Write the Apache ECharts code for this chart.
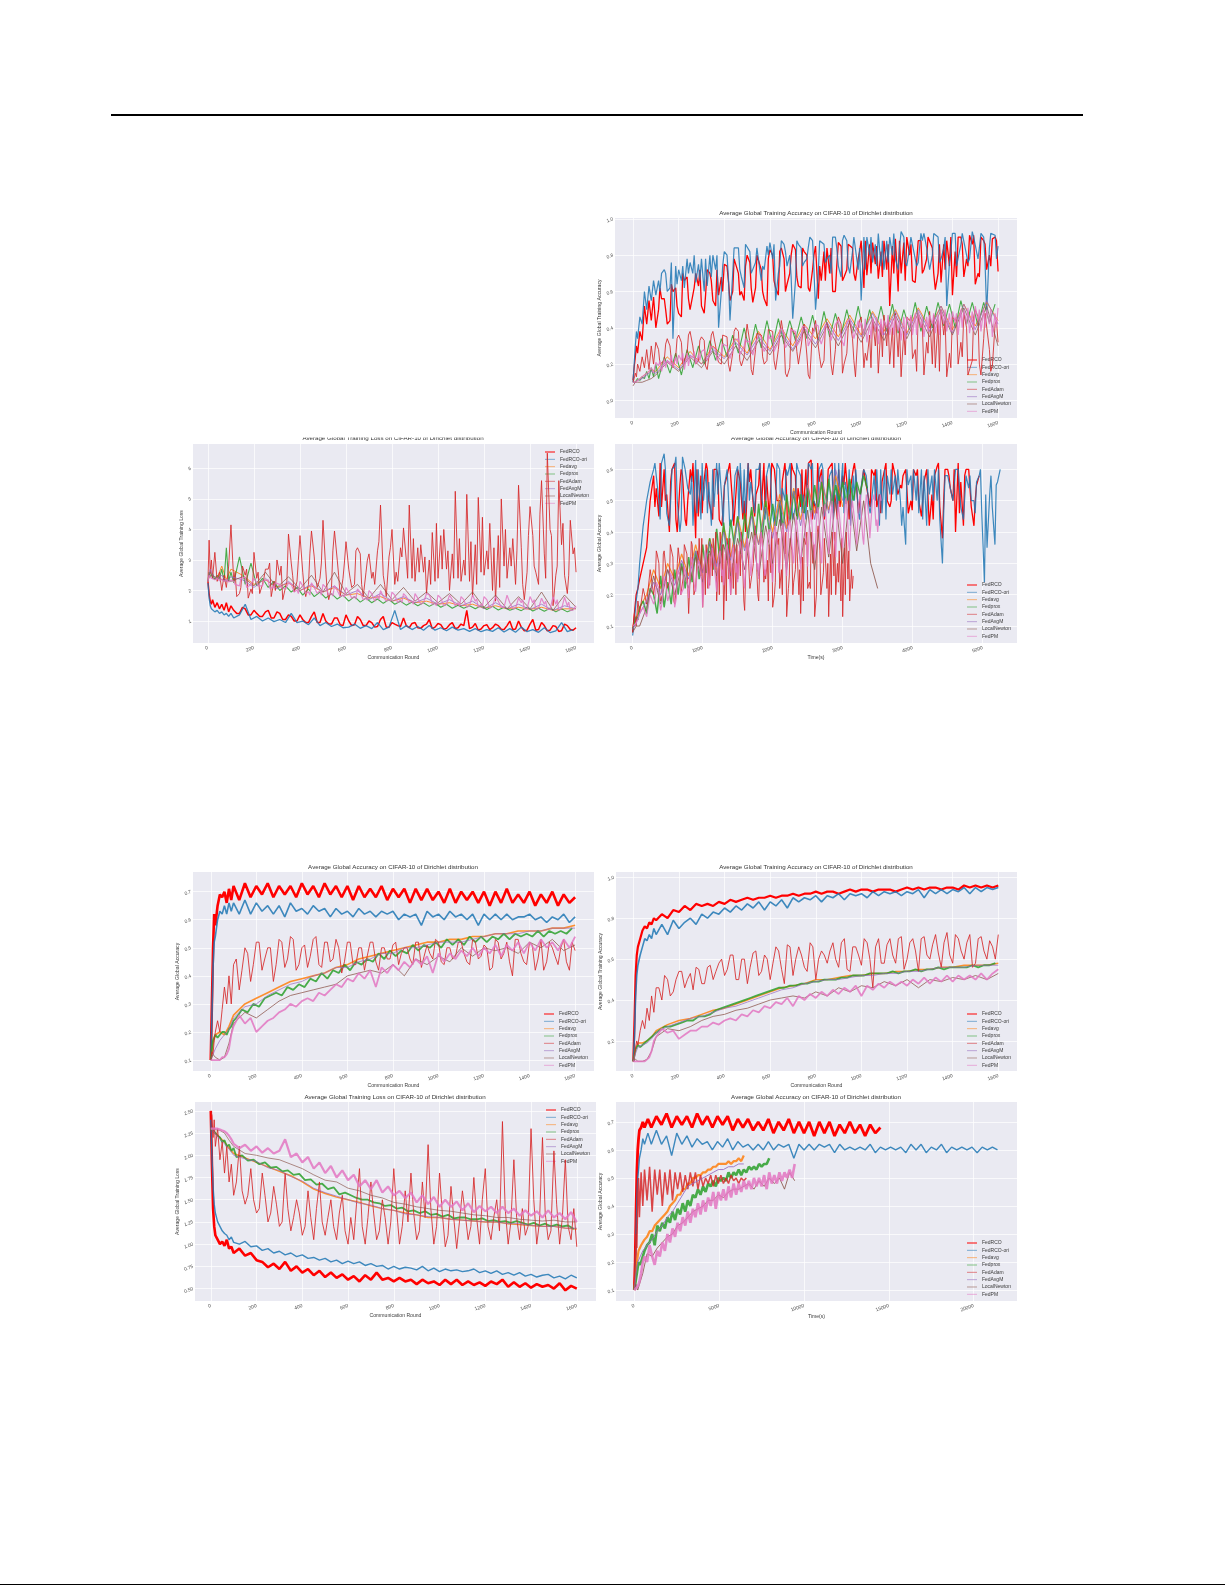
<!DOCTYPE html>
<html><head><meta charset="utf-8">
<style>html,body{margin:0;padding:0;background:#fff}#c{width:1225px;height:1585px;filter:blur(.35px)}</style>
<script src="https://cdn.jsdelivr.net/npm/echarts@6/dist/echarts.min.js"></script>
</head><body><div id="c"></div>
<script>
const names=['FedRCO','FedRCO-ori','Fedavg','Fedprox','FedAdam','FedAvgM','LocalNewton','FedPM'];
const colors=['#ff0000','#1f77b4','#ff7f0e','#2ca02c','#d62728','#9467bd','#8c564b','#e377c2'];
// x grids
const roundsFine=[0,5,10,15,20,30,40,50,60,70,80,90,100,
125,150,175,200,225,250,275,300,325,350,
375,400,425,450,475,500,525,550,575,600,
625,650,675,700,725,750,775,800,825,850,
875,900,925,950,975,1000,1025,1050,1075,1100,
1125,1150,1175,1200,1225,1250,1275,1300,1325,1350,
1375,1400,1425,1450,1475,1500,1525,1550,1575,1600];
const roundsFineB=[0,5,10,15,20,30,40,50,60,70,80,90,100,
112,137,162,187,212,237,262,287,312,337,
362,387,412,437,462,487,512,537,562,587,
612,637,662,687,712,737,762,787,812,837,
862,887,912,937,962,987,1012,1037,1062,1087,
1112,1137,1162,1187,1212,1237,1262,1287,1312,1337,
1362,1387,1412,1437,1462,1487,1512,1537,1562,1587];
const roundsMid=[112,137,162,187,212,237,262,287,312,337,
362,387,412,437,462,487,512,537,562,587,
612,637,662,687,712,737,762,787,812,837,
862,887,912,937,962,987,1012,1037,1062,1087,
1112,1137,1162,1187,1212,1237,1262,1287,1312,1337,
1362,1387,1412,1437,1462,1487,1512,1537,1562,1587];
const roundsThird=[118,143,168,193,218,243,268,293,318,343,
368,393,418,443,468,493,518,543,568,593,
618,643,668,693,718,743,768,793,818,843,
868,893,918,943,968,993,1018,1043,1068,1093,
1118,1143,1168,1193,1218,1243,1268,1293,1318,1343,
1368,1393,1418,1443,1468,1493,1518,1543,1568,1593];
const roundsCoarse=[0,10,20,40,60,80,100,
150,200,250,300,350,400,450,500,550,600,
650,700,750,800,850,900,950,1000,1050,1100,
1150,1200,1250,1300,1350,1400,1450,1500,1550,1600];
const tLongC=[0,25,50,75,100,150,200,250,
300,375,450,525,600,675,750,825,900,975,
1050,1125,1200,1275,1350,1425,1500,1575,1650,1725,
1800,1875,1950,2025,2100,2175,2250,2325,2400,2475,
2550,2625,2700,2775,2850,2925,3000,3075,3150,3225,
3300,3375,3450,3525,3600,3675,3750,3825,3900,3975,
4050,4125,4200,4275,4350,4425,4500,4575,4650,4725,
4800,4875,4950,5025,5100,5175,5250];
const tLongMidC=[337,412,487,562,637,712,787,862,937,1012,
1087,1162,1237,1312,1387,1462,1537,1612,1687,1762,
1837,1912,1987,2062,2137,2212,2287,2362,2437,2512,
2587,2662,2737,2812,2887,2962,3037,3112,3187,3262,
3337,3412,3487,3562,3637,3712,3787,3862,3937,4012,
4087,4162,4237,4312,4387,4462,4537,4612,4687,4762,
4837,4912,4987,5062,5137,5212];
const tLongThirdC=[318,393,468,543,618,693,768,843,918,993,
1068,1143,1218,1293,1368,1443,1518,1593,1668,1743,
1818,1893,1968,2043,2118,2193,2268,2343,2418,2493,
2568,2643,2718,2793,2868,2943,3018,3093,3168,3243,
3318,3393,3468,3543,3618,3693,3768,3843,3918,3993,
4068,4143,4218,4293,4368,4443,4518,4593,4668,4743,
4818,4893,4968,5043,5118,5193];
const tShortC=[0,25,50,75,100,150,200,250,
300,350,400,450,500,550,600,650,700,750,
800,850,900,950,1000,1050,1100,1150,1200,1250,
1300,1350,1400,1450,1500,1550,1600,1650,1700,1750,
1800,1850,1900,1950,2000,2050,2100,2150,2200,2250,
2300,2350,2400,2450,2500,2550,2600,2650,2700,2750,
2800,2850,2900,2950,3000,3050,3100,3150,3200,3250,
3300,3350,3400,3450,3500,3550];
const tShortMidC=[325,375,425,475,525,575,625,675,725,775,
825,875,925,975,1025,1075,1125,1175,1225,1275,
1325,1375,1425,1475,1525,1575,1625,1675,1725,1775,
1825,1875,1925,1975,2025,2075,2125,2175,2225,2275,
2325,2375,2425,2475,2525,2575,2625,2675,2725,2775,
2825,2875,2925,2975,3025,3075,3125,3175,3225,3275,
3325,3375,3425,3475,3525];
const tShortThirdC=[338,388,438,488,538,588,638,688,738,788,
838,888,938,988,1038,1088,1138,1188,1238,1288,
1338,1388,1438,1488,1538,1588,1638,1688,1738,1788,
1838,1888,1938,1988,2038,2088,2138,2188,2238,2288,
2338,2388,2438,2488,2538,2588,2638,2688,2738,2788,
2838,2888,2938,2988,3038,3088,3138,3188,3238,3288,
3338,3388,3438,3488,3538];
const tCoarseC=[0,50,100,200,
300,400,500,600,700,800,900,1000,1100,1200,
1300,1400,1500,1600,1700,1800,1900,2000,2100,2200,
2300,2400,2500,2600,2700,2800,2900,3000,3100,3200,
3300,3400,3500];
const tLongG=[0,50,100,150,200,250,300,400,500,600,800,1000,
1300,1600,1900,2200,2500,2800,3100,3400,3700,4000,
4300,4600,4900,5200,5500,5800,6100,6400,6700,7000,
7300,7600,7900,8200,8500,8800,9100,9400,9700,10000,
10300,10600,10900,11200,11500,11800,12100,12400,12700,13000,
13300,13600,13900,14200,14500,14800,15100,15400,15700,16000,
16300,16600,16900,17200,17500,17800,18100,18400,18700,19000,
19300,19600,19900,20200,20500,20800,21100,21400];
const tShortG=[0,50,100,150,200,250,300,400,500,600,
750,900,1050,1200,1350,1500,1650,1800,1950,2100,
2250,2400,2550,2700,2850,3000,3150,3300,3450,3600,
3750,3900,4050,4200,4350,4500,4650,4800,4950,5100,
5250,5400,5550,5700,5850,6000,6150,6300,6450,6600,
6750,6900,7050,7200,7350,7500,7650,7800,7950,8100,
8250,8400,8550,8700,8850,9000,9150,9300,9450];
const tCoarseG=[0,100,200,300,500,
750,1050,1350,1650,1950,2250,2550,2850,3150,3450,
3750,4050,4350,4650,4950,5250,5550,5850,6150,6450,
6750,7050,7350,7650,7950,8250,8550,8850,9150,9450];
// Panel A: training accuracy, heterogeneous
const aRco=[.11,.18,.24,.3,.26,.38,.33,.52,.42,.55,.44,.57,.4,
.56,.42,.6,.48,.66,.5,.7,.52,.72,.55,
.58,.75,.55,.78,.6,.8,.54,.79,.56,.83,
.62,.84,.64,.86,.63,.82,.6,.85,.66,.84,
.6,.87,.68,.86,.66,.88,.69,.87,.67,.88,
.52,.89,.7,.9,.66,.88,.72,.89,.61,.65,
.88,.58,.9,.68,.91,.64,.9,.72,.89,.71];
const aRcoX=[.5,.56,.44,.62,.46,.68,.58,.63,.48,.7,
.52,.68,.74,.6,.7,.55,.76,.62,.72,.52,
.8,.58,.78,.7,.83,.62,.8,.72,.56,.82,
.7,.6,.85,.72,.84,.78,.62,.86,.75,.82,
.72,.85,.6,.87,.8,.65,.88,.78,.84,.7,
.86,.74,.82,.9,.78,.86,.7,.88,.8,.9];
const aRcoT=[.62,.5,.64,.52,.7,.56,.62,.72,.58,.66,
.72,.6,.66,.78,.58,.74,.62,.8,.6,.78,
.66,.82,.6,.8,.68,.84,.62,.8,.74,.66,
.84,.74,.66,.86,.7,.82,.88,.7,.85,.68,
.86,.7,.88,.66,.86,.76,.7,.9,.7,.86,
.72,.9,.68,.86,.74,.91,.68,.86,.74,.88];
const aOri=[.1,.2,.3,.38,.34,.46,.42,.6,.5,.63,.55,.66,.58,
.7,.6,.34,.72,.62,.76,.65,.78,.63,.8,
.4,.82,.44,.84,.68,.86,.7,.85,.72,.87,
.55,.88,.74,.45,.86,.76,.9,.5,.88,.78,
.9,.74,.91,.7,.89,.55,.9,.76,.92,.72,
.9,.78,.93,.74,.9,.76,.92,.72,.93,.78,
.52,.92,.74,.93,.78,.91,.92,.48,.93,.85];
const aOriX=[.66,.72,.62,.74,.66,.78,.7,.75,.6,.8,
.72,.6,.8,.7,.84,.62,.82,.76,.66,.85,
.78,.7,.86,.8,.66,.84,.78,.88,.7,.86,
.8,.9,.68,.88,.82,.72,.9,.8,.86,.74,
.88,.8,.72,.9,.84,.78,.92,.84,.8,.9,
.84,.76,.92,.86,.8,.93,.78,.9,.84,.91];
const aOriT=[.6,.7,.76,.64,.74,.7,.8,.66,.78,.68,
.8,.74,.68,.84,.72,.86,.7,.84,.74,.8,
.86,.74,.82,.68,.88,.74,.84,.72,.88,.76,
.7,.84,.88,.74,.9,.84,.72,.9,.74,.88,
.76,.92,.84,.76,.9,.74,.88,.78,.92,.76,
.9,.82,.74,.92,.76,.9,.84,.76,.92,.78];
const aAvg=[.1,.1,.11,.13,.15,.17,.16,
.24,.18,.27,.2,.3,.24,.34,.26,.38,.28,
.4,.3,.42,.34,.45,.35,.47,.36,.49,.38,
.5,.37,.51,.4,.52,.39,.53,.41,.54,.44];
const aProx=[.1,.1,.1,.11,.12,.11,.13,.12,.16,.12,.18,.13,.2,
.12,.24,.15,.26,.14,.28,.18,.3,.2,.33,
.22,.34,.24,.36,.26,.4,.27,.42,.29,.44,
.3,.45,.31,.44,.33,.46,.34,.47,.33,.49,
.35,.48,.36,.5,.37,.52,.36,.5,.38,.52,
.38,.53,.37,.5,.39,.54,.38,.52,.4,.54,
.41,.53,.4,.55,.42,.54,.41,.54,.43,.53];
const aAdam=[.1,.12,.15,.13,.2,.16,.24,.18,.28,.17,.3,.2,.32,
.2,.34,.18,.36,.22,.38,.2,.35,.17,.38,
.21,.36,.16,.4,.19,.42,.14,.38,.2,.4,
.17,.44,.13,.4,.2,.42,.12,.44,.18,.43,
.14,.46,.2,.44,.13,.46,.22,.45,.15,.47,
.2,.48,.13,.46,.23,.47,.14,.49,.18,.5,
.13,.46,.2,.48,.15,.5,.14,.48,.19,.32];
const aAdamX=[.28,.22,.3,.24,.32,.26,.3,.22,.33,.28,
.3,.2,.35,.26,.38,.24,.32,.28,.36,.22,
.38,.28,.34,.18,.36,.3,.25,.4,.3,.22,
.38,.28,.42,.26,.34,.4,.18,.36,.3,.42,
.3,.4,.24,.38,.44,.28,.4,.32,.2,.44,
.36,.26,.44,.32,.4,.22,.46,.34,.28,.42];
const aAdamT=[.2,.31,.22,.34,.2,.36,.24,.33,.19,.36,
.24,.36,.2,.38,.22,.34,.17,.37,.24,.39,
.22,.36,.15,.4,.27,.36,.14,.38,.24,.41,
.2,.42,.15,.4,.22,.44,.26,.18,.42,.24,
.44,.18,.4,.25,.46,.16,.42,.26,.47,.16,
.44,.18,.46,.24,.14,.46,.2,.48,.16,.44];
const aAvgM=[.1,.1,.11,.12,.14,.16,.15,
.22,.17,.25,.2,.28,.23,.32,.25,.35,.27,
.38,.28,.4,.31,.43,.33,.45,.35,.48,.36,
.49,.36,.5,.38,.52,.37,.53,.39,.55,.42];
const aNewton=[.08,.1,.1,.1,.11,.12,.14,
.21,.16,.24,.18,.27,.2,.3,.22,.33,.25,
.36,.27,.38,.29,.41,.3,.43,.32,.45,.33,
.47,.34,.48,.35,.5,.36,.51,.36,.52,.3];
const aPm=[.1,.1,.1,.1,.11,.12,.13,.14,.15,.16,.18,.15,.21,
.16,.22,.18,.25,.17,.24,.2,.27,.22,.3,
.24,.31,.23,.33,.26,.32,.25,.36,.27,.34,
.29,.4,.28,.38,.3,.41,.29,.42,.31,.4,
.33,.44,.3,.45,.34,.43,.32,.46,.31,.44,
.36,.47,.33,.46,.36,.49,.35,.47,.37,.5,
.38,.49,.36,.5,.37,.52,.38,.5,.35,.51];
const aPmX=[.19,.23,.2,.24,.22,.26,.24,.25,.28,.26,
.28,.26,.3,.28,.34,.3,.33,.31,.35,.3,
.36,.32,.37,.33,.38,.34,.4,.36,.41,.36,
.38,.42,.35,.43,.38,.44,.36,.42,.38,.45,
.4,.45,.38,.46,.4,.48,.4,.46,.42,.47,
.42,.48,.43,.5,.42,.49,.44,.5,.42,.48];
const aPmT=[.22,.18,.25,.2,.26,.19,.27,.22,.25,.3,
.22,.31,.26,.33,.25,.34,.28,.32,.29,.36,
.27,.38,.29,.39,.3,.41,.3,.38,.34,.42,
.33,.43,.32,.44,.34,.4,.45,.34,.46,.36,
.47,.36,.44,.33,.47,.36,.46,.38,.48,.36,
.5,.38,.48,.4,.51,.38,.5,.4,.5,.4];
// Panel B: training loss, heterogeneous
const bRco=[2.3,1.9,1.65,1.55,1.7,1.45,1.6,1.4,1.55,1.35,1.6,1.3,1.5,
1.25,1.45,1.2,1.35,1.15,1.3,1.1,1.3,1.05,1.2,
1,1.2,.95,1.15,.95,1.25,.9,1.1,.88,1.2,
.85,1.15,.85,1,.8,1.05,.8,.95,.85,1.1,
.78,.95,.76,.9,.75,.92,.73,.88,.75,.9,
1.35,.8,.7,.85,.72,.9,.73,.85,.72,1,
.68,.9,.7,.95,.68,.85,.66,.9,.72,.78];
const bRcoX=[1.35,1.25,1.4,1.2,1.25,1.15,1.35,1.1,1.25,1.05,
1.15,1,1.05,.95,1.3,.95,1,.9,1.1,.85,
1,.88,1.05,.85,.95,.82,1.15,.8,.9,.82,
.85,.92,.78,.85,1.05,.8,.88,.76,.95,.78,
.85,.75,.92,.74,.88,.78,.85,.72,1,.74,
.8,.7,1.05,.72,.85,.7,.82,.68,.85,.7];
const bOri=[2.25,1.75,1.5,1.4,1.45,1.3,1.35,1.25,1.3,1.2,1.25,1.15,1.25,
1.1,1.2,1.55,1.05,1.15,1,1.1,.98,1.05,.95,
1.25,.95,1,.88,1.1,.85,.95,.82,.9,.78,
.8,.9,.76,.85,.75,.95,.72,.8,1.35,.72,
.85,.72,.82,.7,.85,.7,.78,.68,.8,.7,
.75,.66,.75,.65,.72,.66,.78,.64,.75,.63,
.8,.65,.72,.63,.78,.62,.68,.95,.65,.72];
const bAvg=[2.3,2.6,2.5,2.4,2.8,2.35,2.7,
2.5,2.2,2.35,2.1,2.25,2,2.15,1.95,2.1,1.85,
1.9,1.75,1.8,1.65,1.75,1.6,1.65,1.55,1.6,1.5,
1.55,1.42,1.5,1.4,1.45,1.38,1.45,1.35,1.4,1.4];
const bProx=[2.3,2.6,2.45,2.4,2.55,2.35,2.5,2.4,2.7,2.3,3.4,2.3,2.6,
2.25,3.1,2.2,2.9,2.15,2.4,2.1,2.3,2,2.15,
1.95,2.1,1.85,2.05,1.8,1.95,1.75,1.9,1.72,1.85,
1.65,1.8,1.62,1.75,1.6,1.72,1.58,1.7,1.55,1.65,
1.52,1.62,1.5,1.6,1.48,1.58,1.45,1.55,1.42,1.52,
1.42,1.5,1.4,1.5,1.38,1.48,1.36,1.45,1.35,1.42,
1.34,1.45,1.33,1.42,1.32,1.42,1.3,1.4,1.3,1.38];
const bAdam=[2.3,3.65,2.6,3,2.4,3.25,2.3,2.6,2,2.5,2.1,2.8,4.15,
1.8,2.8,1.75,3.25,1.9,2.7,1.8,3,1.7,3.85,
1.95,3.8,1.8,3.95,2.1,4.3,1.7,3.95,1.8,3.6,
2.1,3.4,1.8,3.2,2.2,4.8,1.8,4,2.3,4.05,
4.8,2.3,3.5,1.9,3.9,2.4,4,2,5.25,2.3,
5.15,1.8,5.05,2.5,4.2,1.65,5,2.4,3.7,5.45,
1.7,4.75,2.6,5.6,6.5,1.5,5.6,2.5,4.3,2.6];
const bAdamX=[2.3,1.9,2.5,2.05,2.4,2.2,2.7,2.3,2.5,2.1,
2.9,2.3,2.6,2.2,3.1,2.4,2.7,2.1,3,2.4,
2.7,2.2,3.2,2.6,2.4,3.3,2.5,3.1,2.2,3.4,
3,2.4,3.4,2.6,3,2.3,3.8,2.7,3.2,2.4,
3,2.3,3.5,2.6,3.3,2,3.8,2.8,3.4,2.2,
3.4,2.6,3.8,2.2,3.2,4,2.5,3.5,1.9,3.2];
const bAdamT=[2.6,2.1,2.7,1.9,2.6,2.4,2.9,2,2.8,2.3,
2.5,3,2.1,3.2,2.4,2.9,2,3.3,2.5,2.9,
2.4,3.3,2.2,3,2.6,3.6,2.2,3.4,2.6,3.1,
2.4,3.7,2.6,3.1,2.2,4.2,2.7,3.3,2.4,3.7,
2.5,3.6,2.2,4.4,2.7,3.4,2.1,4,2.8,3.3,
2.2,3.8,2.8,4.5,2.4,3.8,2.8,4.2,2.5,3.4];
const bAvgM=[2.3,2.7,2.5,2.4,2.5,2.3,2.45,
2.35,2.1,2.4,2.05,2.3,2,2.2,1.95,2.15,1.85,
2,1.7,1.9,1.65,1.8,1.6,1.75,1.55,1.7,1.5,
1.65,1.4,1.6,1.4,1.55,1.38,1.55,1.35,1.5,1.4];
const bNewton=[2.3,2.6,2.4,2.4,2.35,2.35,2.3,
2.45,2.15,2.6,2.1,2.45,2.05,2.5,1.95,2.6,1.9,
2.2,1.75,2.2,1.7,2.1,1.65,1.95,1.6,1.9,1.55,
1.95,1.45,1.85,1.4,1.8,1.4,1.95,1.35,1.85,1.45];
const bPm=[2.3,2.5,2.45,2.4,2.42,2.35,2.4,2.32,2.38,2.3,2.36,2.28,2.35,
2.25,2.35,2.15,2.4,2.1,2.35,2.1,2.3,2.05,2.25,
1.95,2.3,1.9,2.25,1.9,2.2,1.85,2.15,1.8,2.1,
1.75,2.05,1.7,2,1.65,2,1.65,1.95,1.6,1.9,
1.6,1.9,1.55,1.9,1.55,1.85,1.5,1.85,1.5,1.8,
1.45,1.85,1.45,1.8,1.42,1.8,1.45,1.85,1.4,1.75,
1.4,1.8,1.38,1.75,1.38,1.8,1.35,1.78,1.35,1.5];
const bPmX=[2.3,2.15,2.45,2.2,2.25,2.15,2.35,2.1,2.2,2.05,
2.2,2.02,2.15,1.95,2.1,2,2.1,1.9,2,1.85,
1.95,1.8,1.95,1.75,1.9,1.85,1.8,1.72,1.85,1.7,
1.8,1.65,1.75,1.6,1.85,1.58,1.75,1.55,1.7,1.6,
1.7,1.5,1.65,1.55,1.7,1.48,1.65,1.45,1.6,1.42,
1.6,1.4,1.6,1.42,1.55,1.38,1.55,1.4,1.5,1.36];
const bPmT=[2.2,2.38,2.1,2.3,2.15,2.32,2.08,2.25,2.1,2,
2.2,1.9,2.15,1.85,2.12,1.85,2.05,1.82,2.05,1.78,
2,1.72,2,1.68,1.9,1.7,1.85,1.65,1.8,1.6,
1.85,1.55,1.8,1.58,1.75,1.5,1.78,1.5,1.72,1.48,
1.75,1.45,1.72,1.48,1.7,1.45,1.7,1.42,1.65,1.4,
1.7,1.38,1.7,1.4,1.65,1.36,1.7,1.35,1.62,1.35];
// Panel C: accuracy vs time, heterogeneous
const cRco=[.08,.14,.2,.22,.25,.3,.35,.5,
.58,.45,.6,.4,.62,.55,.44,.6,.38,.58,
.62,.46,.6,.42,.58,.5,.6,.44,.62,.48,
.55,.62,.45,.6,.5,.62,.44,.58,.48,.6,
.63,.46,.6,.5,.62,.44,.58,.52,.6,.46,
.6,.5,.58,.52,.6,.48,.58,.55,.6,.5,
.58,.45,.6,.52,.61,.38,.6,.5,.62,.42,
.6,.42,.58];
const cRcoX=[.54,.48,.52,.6,.4,.58,.5,.62,.45,.55,
.5,.6,.44,.55,.62,.48,.56,.4,.6,.52,
.47,.58,.62,.5,.56,.42,.6,.54,.46,.62,
.5,.56,.44,.6,.52,.48,.62,.54,.58,.5,
.55,.6,.48,.56,.5,.62,.52,.58,.46,.6,
.5,.56,.42,.58,.48,.6,.54,.4,.56,.6,
.48,.55];
const cRcoT=[.48,.62,.5,.56,.44,.6,.42,.56,.6,.46,
.6,.44,.58,.48,.6,.42,.6,.5,.56,.45,
.62,.46,.52,.6,.42,.56,.62,.45,.6,.48,
.44,.62,.5,.6,.46,.6,.55,.44,.62,.5,
.6,.48,.6,.46,.62,.5,.58,.54,.6,.47,
.6,.5,.6,.44,.62,.5,.58,.6,.46,.58,
.6,.5];
const cOri=[.07,.12,.18,.22,.3,.42,.5,.56,
.6,.5,.65,.42,.61,.4,.6,.52,.63,.44,
.6,.42,.62,.5,.6,.44,.61,.46,.62,.5,
.6,.46,.62,.42,.6,.5,.62,.48,.58,.44,
.6,.48,.62,.5,.6,.46,.62,.5,.58,.46,
.6,.48,.58,.42,.6,.52,.58,.5,.36,.58,
.5,.6,.42,.58,.5,.3,.58,.5,.6,.44,
.54,.5,.58,.24,.52,.36,.6];
const cOriX=[.58,.62,.46,.6,.5,.64,.54,.42,.6,.5,
.56,.48,.62,.55,.42,.58,.62,.46,.56,.6,
.52,.58,.48,.62,.54,.58,.44,.6,.52,.62,
.5,.6,.45,.58,.62,.5,.56,.42,.6,.54,
.58,.5,.6,.46,.58,.52,.6,.48,.55,.6,
.46,.58,.52,.6,.44,.58,.54,.6,.48,.58,
.5,.56,.46,.35,.48,.56];
const cOriT=[.62,.44,.6,.5,.64,.44,.6,.58,.46,.62,
.46,.6,.52,.42,.6,.5,.44,.6,.5,.46,
.62,.44,.6,.5,.42,.6,.5,.62,.46,.56,
.62,.46,.6,.5,.44,.62,.46,.6,.5,.44,
.6,.46,.5,.6,.44,.6,.5,.42,.6,.5,
.58,.44,.6,.5,.6,.46,.58,.5,.6,.44,
.58,.46,.6,.52,.58,.55];
const cAvg=[.1,.12,.16,.2,
.28,.22,.3,.25,.33,.26,.36,.27,.38,.3,
.42,.32,.45,.35,.47,.36,.5,.4,.52,.41,
.54,.44,.55,.46,.56,.47,.58,.48];
const cProx=[.09,.11,.13,.12,.16,.18,.14,.22,
.2,.14,.26,.16,.24,.17,.28,.2,.3,.22,
.32,.24,.34,.25,.36,.27,.38,.28,.41,.3,
.43,.31,.44,.36,.45,.33,.46,.38,.48,.36,
.49,.38,.5,.4,.49,.42,.5,.41,.52,.43,
.53,.44,.52,.46,.54,.45,.55,.47,.56,.46,
.57,.48,.55,.5,.56,.49,.57,.5,.56,.52,
.58,.54];
const cAdam=[.08,.14,.1,.18,.14,.22,.17,.28,
.2,.33,.18,.34,.22,.36,.17,.35,.2,.36,
.14,.36,.22,.38,.16,.36,.23,.38,.18,.4,
.12,.38,.2,.36,.25,.4,.15,.38,.24,.42,
.18,.38,.25,.36,.16,.4,.22,.42,.13,.38,
.24,.4,.14,.38,.22,.4,.13,.42,.2,.38,
.13,.4,.2,.34,.13,.4,.18,.26];
const cAdamX=[.25,.3,.2,.28,.24,.32,.22,.3,.26,.33,
.28,.2,.34,.26,.3,.22,.36,.28,.3,.24,
.33,.25,.3,.2,.34,.27,.36,.22,.3,.27,
.36,.24,.31,.27,.2,.36,.28,.33,.22,.34,
.28,.2,.32,.36,.24,.3,.2,.34,.27,.22,
.33,.26,.3,.18,.35,.25,.28];
const cAdamT=[.34,.2,.33,.22,.36,.18,.3,.2,.36,.22,
.37,.2,.3,.38,.2,.33,.26,.4,.2,.36,
.18,.38,.22,.36,.26,.18,.38,.24,.4,.2,
.4,.28,.18,.4,.24,.38,.2,.4,.26,.2,
.4,.28,.18,.4,.22,.36,.4,.2,.38,.3,
.2,.4,.24,.38,.2,.34,.22];
const cAvgM=[.09,.11,.14,.18,
.24,.2,.28,.23,.31,.25,.34,.27,.37,.29,
.4,.31,.43,.34,.45,.36,.48,.38,.5,.4,
.53,.42,.55,.44,.58,.46,.6,.5];
const cNewton=[.08,.1,.1,.16,
.26,.17,.28,.2,.29,.22,.32,.24,.34,.26,
.36,.26,.38,.28,.4,.26,.42,.3,.44,.28,
.46,.3,.47,.28,.48,.32,.5,.3,.52,.34,
.5,.3,.22];
const cPm=[.1,.1,.11,.12,.14,.16,.13,.2,
.17,.24,.15,.25,.18,.27,.16,.28,.2,.29,
.19,.31,.21,.3,.16,.32,.22,.33,.21,.34,
.23,.36,.2,.35,.24,.37,.22,.38,.26,.39,
.25,.4,.27,.41,.24,.42,.28,.43,.26,.44,
.3,.45,.28,.46,.29,.47,.31,.48,.3,.49,
.33,.5,.32,.49,.35,.51,.34,.5,.36,.52,
.36,.5,.38,.52,.4,.5];
const cPmX=[.19,.22,.18,.24,.2,.25,.19,.26,.22,.24,
.28,.24,.29,.26,.3,.25,.31,.27,.3,.26,
.32,.28,.33,.27,.34,.3,.33,.31,.36,.28,
.35,.3,.37,.32,.36,.34,.38,.33,.4,.36,
.41,.36,.4,.38,.42,.37,.43,.38,.44,.4,
.44,.38,.46,.4,.45,.42,.47,.43,.48,.42,
.48,.44,.5,.42,.48];
const cPmT=[.24,.17,.26,.2,.27,.22,.28,.2,.29,.23,
.32,.22,.31,.24,.34,.22,.35,.24,.33,.28,
.35,.24,.35,.3,.37,.25,.38,.26,.38,.3,
.4,.26,.4,.28,.42,.27,.42,.3,.43,.32,
.45,.32,.46,.34,.45,.36,.47,.34,.48,.38,
.47,.36,.49,.38,.5,.36,.5,.4,.5,.38,
.52,.38,.5,.44,.52];
// Panel D: test accuracy
const dRco=[.1,.3,.5,.62,.58,.65,.69,.68,.7,.66,.71,.67,.72,
.67,.73,.68,.72,.69,.73,.68,.72,.69,.72,
.68,.73,.69,.72,.68,.73,.69,.72,.68,.72,
.67,.72,.68,.71,.68,.72,.67,.71,.68,.71,
.66,.71,.67,.71,.67,.7,.66,.71,.66,.7,
.67,.7,.66,.7,.65,.7,.66,.71,.66,.69,
.66,.7,.65,.69,.66,.7,.65,.69,.66,.68];
const dOri=[.1,.25,.43,.52,.54,.6,.63,.62,.65,.62,.66,.63,.66,
.62,.67,.62,.66,.63,.65,.62,.65,.61,.66,
.63,.64,.62,.65,.63,.64,.61,.64,.62,.63,
.61,.64,.62,.63,.61,.63,.62,.63,.6,.62,
.61,.62,.58,.63,.61,.62,.6,.63,.61,.62,
.6,.62,.58,.62,.6,.62,.6,.62,.6,.61,
.61,.62,.6,.61,.59,.61,.6,.62,.59,.61];
const dAvg=[.1,.16,.19,.2,.19,.22,.26,
.3,.32,.34,.36,.38,.39,.4,.41,.43,.44,
.46,.47,.48,.49,.5,.51,.52,.52,.53,.53,
.54,.54,.55,.55,.56,.56,.56,.57,.57,.58];
const dProx=[.1,.14,.17,.18,.19,.18,.19,.2,.2,.19,.21,.22,.24,
.25,.28,.27,.3,.29,.32,.33,.34,.33,.36,
.35,.37,.36,.39,.38,.41,.39,.42,.41,.44,
.42,.45,.44,.46,.45,.48,.46,.49,.47,.49,
.48,.51,.49,.51,.5,.52,.5,.53,.51,.53,
.51,.54,.52,.54,.52,.54,.53,.55,.53,.55,
.54,.55,.54,.56,.54,.56,.55,.56,.55,.57];
const dAdam=[.1,.13,.12,.17,.2,.24,.2,.28,.36,.3,.4,.3,.44,
.35,.5,.38,.52,.42,.5,.38,.53,.43,.54,
.42,.5,.43,.53,.44,.52,.45,.53,.41,.52,
.44,.5,.42,.52,.45,.5,.46,.51,.44,.5,
.46,.52,.43,.51,.46,.52,.44,.5,.47,.52,
.45,.53,.46,.51,.42,.53,.46,.52,.4,.53,
.45,.52,.42,.53,.45,.5,.44,.53,.42,.49];
const dAdamX=[.46,.42,.48,.44,.52,.46,.5,.44,.52,.46,
.53,.44,.51,.47,.54,.43,.52,.46,.5,.45,
.52,.44,.5,.47,.52,.42,.5,.46,.52,.48,
.5,.44,.52,.47,.48,.53,.45,.5,.46,.52,
.48,.44,.52,.47,.5,.43,.52,.48,.45,.53,
.48,.44,.51,.46,.42,.52,.47,.5,.45,.52];
const dAvgM=[.1,.12,.14,.17,.19,.21,.25,
.29,.3,.33,.35,.37,.38,.4,.41,.43,.43,
.45,.46,.48,.48,.5,.5,.51,.52,.52,.52,
.53,.54,.55,.55,.55,.56,.56,.57,.57,.57];
const dNewton=[.1,.12,.11,.1,.11,.16,.23,
.27,.25,.28,.31,.33,.34,.35,.36,.37,.4,
.41,.42,.41,.44,.4,.46,.44,.47,.45,.5,
.47,.5,.49,.5,.48,.52,.5,.53,.49,.51];
const dPm=[.1,.1,.1,.1,.1,.1,.1,.11,.11,.12,.14,.19,.22,
.26,.23,.25,.2,.22,.24,.25,.27,.28,.3,
.29,.31,.32,.31,.34,.33,.35,.37,.36,.39,
.38,.41,.39,.42,.36,.43,.41,.44,.42,.45,
.43,.46,.44,.47,.41,.48,.45,.48,.46,.49,
.47,.5,.47,.5,.48,.51,.47,.51,.49,.52,
.48,.52,.49,.53,.5,.52,.49,.53,.5,.54];
// Panel E: training accuracy
const eRco=[.1,.3,.52,.62,.66,.7,.74,.76,.75,.78,.77,.8,.79,
.82,.8,.84,.83,.86,.84,.87,.86,.87,.86,
.88,.87,.89,.88,.89,.9,.89,.9,.9,.91,
.9,.91,.91,.92,.91,.92,.92,.93,.92,.93,
.93,.92,.93,.94,.93,.94,.94,.93,.94,.94,
.94,.93,.94,.95,.94,.95,.94,.95,.95,.94,
.95,.95,.94,.96,.95,.96,.95,.96,.95,.96];
const eOri=[.1,.22,.42,.52,.57,.62,.66,.7,.69,.72,.7,.75,.72,
.77,.72,.79,.75,.78,.8,.77,.82,.8,.83,
.82,.85,.83,.86,.84,.87,.85,.88,.84,.88,
.86,.89,.85,.9,.88,.9,.89,.91,.88,.91,
.9,.92,.89,.92,.91,.92,.9,.93,.91,.93,
.92,.93,.91,.93,.92,.94,.9,.94,.92,.94,
.92,.94,.93,.95,.92,.95,.93,.95,.94,.95];
const eAvg=[.1,.16,.19,.19,.2,.22,.25,
.28,.3,.31,.33,.35,.36,.38,.4,.42,.44,
.46,.47,.48,.5,.5,.51,.52,.52,.53,.53,
.54,.54,.55,.55,.56,.56,.57,.57,.57,.58];
const eProx=[.1,.13,.16,.17,.18,.17,.18,.19,.2,.21,.22,.23,.24,
.25,.27,.27,.28,.29,.3,.3,.32,.32,.33,
.35,.36,.37,.38,.39,.4,.41,.42,.43,.44,
.45,.46,.46,.47,.47,.48,.48,.49,.49,.5,
.5,.5,.51,.51,.52,.52,.52,.53,.53,.53,
.53,.54,.53,.54,.54,.55,.54,.55,.55,.56,
.55,.56,.56,.56,.56,.57,.56,.57,.57,.58];
const eAdam=[.1,.13,.17,.2,.18,.25,.3,.26,.36,.3,.42,.34,.46,
.4,.5,.44,.54,.46,.53,.56,.48,.56,.5,
.58,.52,.62,.5,.6,.48,.63,.52,.62,.5,
.66,.55,.67,.52,.66,.56,.68,.5,.64,.58,
.68,.56,.7,.54,.66,.57,.68,.46,.7,.58,
.7,.58,.71,.6,.7,.54,.71,.6,.72,.56,
.73,.58,.7,.6,.72,.58,.71,.6,.66,.72];
const eAdamX=[.46,.52,.42,.5,.54,.5,.45,.55,.48,.57,
.54,.6,.55,.62,.5,.6,.56,.64,.54,.6,
.58,.64,.48,.66,.6,.62,.54,.66,.6,.62,
.64,.6,.68,.55,.66,.62,.7,.6,.66,.58,
.67,.62,.7,.55,.68,.64,.7,.62,.67,.63,
.68,.62,.72,.64,.68,.56,.7,.64,.69,.6];
const eAvgM=[.1,.14,.17,.18,.19,.21,.24,
.27,.29,.31,.32,.34,.36,.37,.39,.41,.43,
.45,.46,.48,.49,.5,.5,.51,.52,.52,.53,
.53,.54,.54,.55,.56,.56,.56,.57,.57,.57];
const eNewton=[.1,.11,.1,.1,.11,.15,.22,
.26,.25,.27,.3,.32,.33,.35,.36,.38,.4,
.41,.42,.41,.44,.42,.46,.44,.47,.46,.49,
.47,.5,.46,.5,.49,.51,.5,.52,.5,.53];
const ePm=[.1,.1,.1,.1,.1,.1,.1,.1,.11,.12,.15,.2,.22,
.26,.24,.25,.21,.23,.25,.25,.27,.27,.29,
.28,.3,.31,.3,.33,.32,.35,.34,.37,.36,
.39,.38,.41,.37,.42,.4,.43,.41,.44,.42,
.45,.43,.46,.44,.47,.42,.47,.45,.48,.46,
.49,.47,.49,.47,.5,.48,.51,.48,.51,.49,
.52,.49,.52,.5,.52,.5,.53,.5,.53,.55];
// Panel F: training loss
const fRco=[2.5,1.9,1.4,1.2,1.1,1.05,1,1.03,.98,1.05,.95,.97,.9,
.95,.87,.9,.82,.8,.74,.78,.72,.8,.7,
.75,.68,.72,.65,.7,.63,.68,.62,.66,.6,
.64,.58,.65,.6,.68,.6,.62,.58,.62,.58,
.6,.55,.6,.56,.58,.54,.6,.55,.6,.54,
.58,.54,.57,.53,.58,.55,.6,.52,.57,.52,
.56,.51,.55,.52,.54,.5,.56,.48,.53,.5];
const fOri=[2.4,2,1.65,1.45,1.35,1.25,1.2,1.15,1.12,1.1,1.05,1.08,1.02,
1,1.03,.97,.98,.93,.95,.9,.92,.88,.9,
.86,.88,.84,.85,.82,.84,.8,.82,.78,.81,
.78,.8,.76,.78,.75,.76,.72,.75,.72,.74,
.73,.71,.75,.7,.73,.69,.72,.7,.71,.69,
.7,.72,.68,.7,.67,.7,.66,.68,.65,.68,
.64,.66,.63,.65,.66,.62,.64,.61,.65,.62];
const fAvg=[2.3,2.28,2.25,2.2,2.15,2.08,2.02,
1.97,1.92,1.87,1.82,1.77,1.7,1.62,1.57,1.53,1.5,
1.47,1.43,1.4,1.38,1.35,1.33,1.3,1.3,1.28,1.27,
1.26,1.25,1.25,1.23,1.22,1.21,1.2,1.2,1.18,1.17];
const fProx=[2.3,2.3,2.28,2.27,2.25,2.22,2.2,2.15,2.17,2.1,2.12,2.05,2.08,
1.98,2,1.94,1.95,1.9,1.92,1.86,1.87,1.82,1.83,
1.78,1.79,1.72,1.73,1.67,1.68,1.62,1.64,1.56,1.58,
1.55,1.52,1.5,1.5,1.47,1.46,1.43,1.44,1.4,1.41,
1.37,1.38,1.35,1.37,1.33,1.34,1.31,1.33,1.29,1.3,
1.3,1.28,1.28,1.29,1.26,1.27,1.25,1.26,1.24,1.26,
1.24,1.22,1.24,1.21,1.23,1.2,1.22,1.2,1.21,1.17];
const fAdam=[2.5,2.45,2.2,2.4,2.1,2.3,1.95,2.15,1.8,2.1,1.7,1.9,1.55,
2.1,1.45,1.85,1.35,1.8,1.25,1.65,1.2,1.8,1.15,
1.5,1.1,1.6,1.05,1.7,1.1,1.5,1.05,1.55,1,
1.05,1.85,1,1.7,1.05,1.5,1,1.85,1,1.6,
1.8,1.05,1.7,2.12,1,1.8,.97,1.65,.95,1.6,
1.05,1.75,1,1.85,1.05,1.5,2.38,1,1.95,1.05,
1.1,2.3,1,2.2,1.05,2.05,1,1.95,1.05,.97];
const fAdamX=[1.7,1.6,1.55,1.5,1.4,1.55,1.35,1.45,1.25,1.4,
1.3,1.35,1.2,1.3,1.4,1.25,1.3,1.2,1.35,1.15,
1.3,1.45,1.2,1.3,1.35,1.15,1.3,1.25,1.4,1.2,
1.25,1.35,1.15,1.3,1.4,1.2,1.35,1.1,1.3,1.25,
1.35,1.2,1.3,1.5,1.2,1.3,1.15,1.4,1.25,1.3,
1.4,1.2,1.5,1.25,1.35,1.15,1.45,1.3,1.2,1.4];
const fAvgM=[2.3,2.28,2.24,2.18,2.13,2.07,2,
1.96,1.93,1.86,1.83,1.76,1.71,1.63,1.58,1.54,1.5,
1.46,1.44,1.4,1.38,1.34,1.33,1.31,1.3,1.28,1.27,
1.26,1.25,1.25,1.23,1.23,1.21,1.2,1.2,1.18,1.18];
const fNewton=[2.3,2.3,2.29,2.28,2.25,2.17,2.1,
2.02,2,1.97,1.95,1.9,1.85,1.78,1.72,1.7,1.63,
1.6,1.55,1.52,1.47,1.45,1.42,1.4,1.38,1.37,1.35,
1.33,1.32,1.3,1.3,1.28,1.27,1.26,1.27,1.25,1.25];
const fPm=[2.3,2.31,2.3,2.3,2.3,2.3,2.29,2.28,2.27,2.25,2.22,2.18,2.13,
2.08,2.12,2.05,2.1,2.03,2.08,2.02,2.05,2.18,1.98,
2.02,1.92,1.98,1.85,1.92,1.8,1.88,1.75,1.83,1.72,
1.78,1.65,1.72,1.62,1.72,1.58,1.65,1.55,1.6,1.52,
1.58,1.47,1.55,1.45,1.53,1.42,1.5,1.42,1.48,1.38,
1.46,1.36,1.43,1.37,1.42,1.35,1.42,1.35,1.4,1.32,
1.38,1.32,1.37,1.3,1.38,1.3,1.35,1.28,1.36,1.25];
// Panel G: accuracy vs time
const gRco=[.1,.2,.38,.52,.6,.64,.67,.68,.7,.68,.71,.68,
.72,.69,.73,.68,.72,.69,.72,.68,.73,.69,
.72,.68,.72,.69,.72,.67,.71,.68,.71,.67,
.7,.67,.71,.66,.7,.67,.71,.66,.7,.66,
.7,.65,.7,.66,.7,.65,.69,.66,.7,.66,
.69,.65,.69,.66,.68];
const gOri=[.1,.16,.3,.42,.5,.53,.57,.6,.64,.62,.66,.62,
.67,.62,.65,.58,.66,.62,.65,.61,.64,.62,
.63,.6,.63,.61,.64,.6,.63,.61,.62,.6,
.62,.6,.63,.6,.62,.61,.62,.57,.62,.6,
.62,.6,.62,.61,.62,.59,.62,.6,.61,.6,
.61,.6,.62,.59,.61,.6,.61,.6,.61,.59,
.62,.6,.62,.59,.61,.6,.62,.59,.61,.6,
.61,.6,.61,.59,.61,.6,.61,.6];
const gAvg=[.1,.13,.17,.2,.22,.24,.24,.26,.27,.28,
.29,.31,.31,.33,.34,.35,.36,.37,.38,.4,
.41,.42,.44,.44,.46,.46,.48,.48,.5,.5,
.51,.51,.52,.52,.53,.53,.54,.54,.55,.55,
.55,.55,.56,.55,.56,.56,.57,.56,.58];
const gProx=[.1,.12,.14,.16,.18,.2,.19,.2,.22,.24,
.26,.27,.3,.26,.33,.31,.34,.32,.36,.34,
.38,.35,.39,.37,.41,.38,.42,.4,.44,.43,
.46,.44,.47,.45,.48,.47,.49,.47,.5,.49,
.5,.49,.52,.5,.52,.51,.53,.51,.53,.52,
.54,.53,.54,.53,.55,.54,.55,.55,.57];
const gAdam=[.1,.2,.3,.25,.42,.5,.36,.52,.4,.53,
.42,.54,.38,.53,.44,.53,.4,.52,.44,.53,
.42,.52,.46,.52,.45,.51,.46,.52,.47,.52,
.46,.51,.47,.5,.48,.51,.47,.51,.48,.51,
.48,.5,.48,.51,.49,.5,.48,.5,.49,.5];
const gAvgM=[.1,.16,.2,.2,.24,
.26,.28,.31,.33,.36,.38,.41,.44,.47,.48,
.49,.5,.51,.52,.53,.53,.54,.54,.55,.55];
const gNewton=[.1,.12,.1,.1,.16,
.23,.22,.25,.27,.29,.3,.33,.34,.36,.38,
.39,.4,.42,.42,.44,.43,.45,.46,.46,.47,
.48,.46,.49,.47,.5,.48,.5,.46,.52,.49];
const gPm=[.1,.1,.1,.11,.11,.12,.13,.16,.2,.22,
.2,.26,.22,.19,.24,.22,.27,.24,.3,.27,
.32,.29,.34,.31,.36,.33,.38,.34,.39,.36,
.41,.37,.42,.38,.43,.4,.45,.39,.45,.42,
.46,.42,.47,.43,.48,.44,.48,.45,.49,.46,
.49,.46,.5,.47,.5,.47,.51,.46,.52,.48,
.51,.48,.52,.49,.52,.5,.53,.5,.55];
// ticks
const roundTicks=[0,200,400,600,800,1000,1200,1400,1600];
const timeTicksC=[0,1000,2000,3000,4000,5000];
const timeTicksG=[0,5000,10000,15000,20000];
const yA=[0,.2,.4,.6,.8,1],yB=[1,2,3,4,5,6],yC=[.1,.2,.3,.4,.5,.6],yD=[.1,.2,.3,.4,.5,.6,.7],yE=[.2,.4,.6,.8,1],yF=[.5,.75,1,1.25,1.5,1.75,2,2.25,2.5];
const T1='Average Global Accuracy on CIFAR-10 of Dirichlet distribution',T2='Average Global Training Accuracy on CIFAR-10 of Dirichlet distribution',T3='Average Global Training Loss on CIFAR-10 of Dirichlet distribution';
const R='Communication Round',Y1='Average Global Accuracy',Y2='Average Global Training Accuracy',Y3='Average Global Training Loss';
const F=roundsFine,C=roundsCoarse,B=roundsFineB,M=roundsMid,H=roundsThird;
const panels=[
 {title:T2,tx:816,ty:214,xn:R,yn:Y2,g:[615,218,402,200],xr:[-79,1683],yr:[-.097,1.005],xt:roundTicks,yt:yA,d:1,lg:[967,357],
  w:[1.3,1.2,1,1.1,1,.9,.9,1.2],
  s:[[F,aRco,M,aRcoX,H,aRcoT],[F,aOri,M,aOriX,H,aOriT],[C,aAvg],[B,aProx],[F,aAdam,M,aAdamX,H,aAdamT],[C,aAvgM],[C,aNewton],[F,aPm,M,aPmX,H,aPmT]]},
 {title:T3,tx:393,ty:439,xn:R,yn:Y3,g:[193,444,401,199],xr:[-65,1678],yr:[.28,6.8],xt:roundTicks,yt:yB,d:0,lg:[545,449],
  w:[1.5,1.3,1,1.1,1,.9,.9,1.2],
  s:[[F,bRco,M,bRcoX],[B,bOri],[C,bAvg],[B,bProx],[F,bAdam,M,bAdamX,H,bAdamT],[C,bAvgM],[C,bNewton],[F,bPm,M,bPmX,H,bPmT]]},
 {title:T1,tx:816,ty:439,xn:'Time(s)',yn:Y1,g:[615,444,402,199],xr:[-252,5490],yr:[.046,.681],xt:timeTicksC,yt:yC,d:1,lg:[967,582],
  w:[1.3,1.2,1.2,1.5,1,1,1,1.2],
  s:[[tLongC,cRco,tLongMidC,cRcoX,tLongThirdC,cRcoT],[tLongC,cOri,tLongMidC,cOriX,tLongThirdC,cOriT],[tCoarseC,cAvg],[tShortC,cProx],[tShortC,cAdam,tShortMidC,cAdamX,tShortThirdC,cAdamT],[tCoarseC,cAvgM],[tCoarseC,cNewton],[tShortC,cPm,tShortMidC,cPmX,tShortThirdC,cPmT]]},
 {title:T1,tx:393,ty:868,xn:R,yn:Y1,g:[193,872,401,199],xr:[-78,1683],yr:[.061,.77],xt:roundTicks,yt:yD,d:1,lg:[544,1011],
  w:[2.6,1.6,1.6,1.8,1,.8,.9,1.8],
  s:[[F,dRco],[F,dOri],[C,dAvg],[B,dProx],[F,dAdam,M,dAdamX],[C,dAvgM],[C,dNewton],[F,dPm]]},
 {title:T2,tx:816,ty:868,xn:R,yn:Y2,g:[616,872,401,199],xr:[-76,1682],yr:[.053,1.026],xt:roundTicks,yt:yE,d:1,lg:[967,1011],
  w:[2.2,1.6,1.4,1.8,1,.8,.9,1.8],
  s:[[F,eRco],[F,eOri],[C,eAvg],[B,eProx],[F,eAdam,M,eAdamX],[C,eAvgM],[C,eNewton],[F,ePm]]},
 {title:T3,tx:395,ty:1098,xn:R,yn:Y3,g:[195,1102,401,199],xr:[-69,1684],yr:[.36,2.6],xt:roundTicks,yt:yF,d:2,lg:[546,1107],
  w:[2.6,1.4,1.4,1.8,1,.8,.8,2.2],
  s:[[F,fRco],[F,fOri],[C,fAvg],[B,fProx],[F,fAdam,M,fAdamX],[C,fAvgM],[C,fNewton],[F,fPm]]},
 {title:T1,tx:816,ty:1098,xn:'Time(s)',yn:Y1,g:[616,1102,401,199],xr:[-1080,22550],yr:[.061,.771],xt:timeTicksG,yt:yD,d:1,lg:[967,1240],
  w:[2.8,1.4,2.2,2.6,1.5,1,1,2.6],
  s:[[tLongG,gRco],[tLongG,gOri],[tShortG,gAvg],[tShortG,gProx],[tShortG,gAdam],[tCoarseG,gAvgM],[tCoarseG,gNewton],[tShortG,gPm]]}
];
function pts(s){
 const out=[];
 for(let a=0;a<s.length;a+=2) s[a+1].forEach((y,j)=>out.push([s[a][j],y]));
 return out.sort((p,q)=>p[0]-q[0]);
}
const txt='#3a3a3a',font='"Liberation Sans",Arial,sans-serif';
const option={animation:false,backgroundColor:'#fff',title:[],grid:[],xAxis:[],yAxis:[],legend:[],series:[],
 graphic:{elements:[
  {type:'rect',z:1000,shape:{x:111,y:114,width:972,height:2},style:{fill:'#000'}},
  {type:'rect',z:1000,shape:{x:0,y:1584,width:1225,height:1},style:{fill:'#000'}},
  {type:'rect',z:1000,shape:{x:280,y:435,width:230,height:2.6},style:{fill:'#fff'}},
  {type:'rect',z:1000,shape:{x:700,y:435.5,width:230,height:2.1},style:{fill:'#fff'}}
 ]}};
panels.forEach((p,i)=>{
 option.title.push({text:p.title,left:p.tx,top:p.ty-3.5,textAlign:'center',padding:0,textStyle:{fontSize:6.2,fontWeight:'normal',color:'#333',fontFamily:font}});
 option.grid.push({left:p.g[0],top:p.g[1],width:p.g[2],height:p.g[3],show:true,backgroundColor:'#eaeaf2',borderWidth:0,containLabel:false});
 option.xAxis.push({type:'value',gridIndex:i,min:p.xr[0],max:p.xr[1],name:p.xn,nameLocation:'middle',nameGap:12,
  nameTextStyle:{fontSize:5.1,color:txt,fontFamily:font},axisLine:{show:false},
  axisTick:{show:false,customValues:p.xt},splitLine:{show:true,lineStyle:{color:'#fff',width:.7}},
  axisLabel:{customValues:p.xt,rotate:20,margin:4.5,fontSize:5,color:'#555',fontFamily:font,formatter:v=>String(v)}});
 option.yAxis.push({type:'value',gridIndex:i,min:p.yr[0],max:p.yr[1],name:p.yn,nameLocation:'middle',nameGap:9,
  nameTextStyle:{fontSize:5.1,color:txt,fontFamily:font},axisLine:{show:false},
  axisTick:{show:false,customValues:p.yt},splitLine:{show:true,lineStyle:{color:'#fff',width:.7}},
  axisLabel:{customValues:p.yt,rotate:20,margin:2,fontSize:4.8,color:'#555',fontFamily:font,formatter:v=>v.toFixed(p.d)}});
 option.legend.push({show:true,orient:'vertical',left:p.lg[0],top:p.lg[1],padding:0,selectedMode:false,icon:'rect',itemWidth:10,itemHeight:1,itemGap:1.33,
  data:names.map((n,k)=>({name:n,itemStyle:{color:colors[k],opacity:k==0?1:.55}})),
  textStyle:{fontSize:5,lineHeight:6,color:txt,fontFamily:font}});
 p.s.forEach((s,k)=>{
  option.series.push({type:'line',name:names[k],xAxisIndex:i,yAxisIndex:i,showSymbol:false,silent:true,
   z:2+k,data:pts(s),
   lineStyle:{color:colors[k],width:p.w[k],opacity:k==0?1:.85},itemStyle:{color:colors[k]}});
 });
});
const chart=echarts.init(document.getElementById('c'),null,{renderer:'canvas'});
chart.setOption(option);
</script></body></html>
